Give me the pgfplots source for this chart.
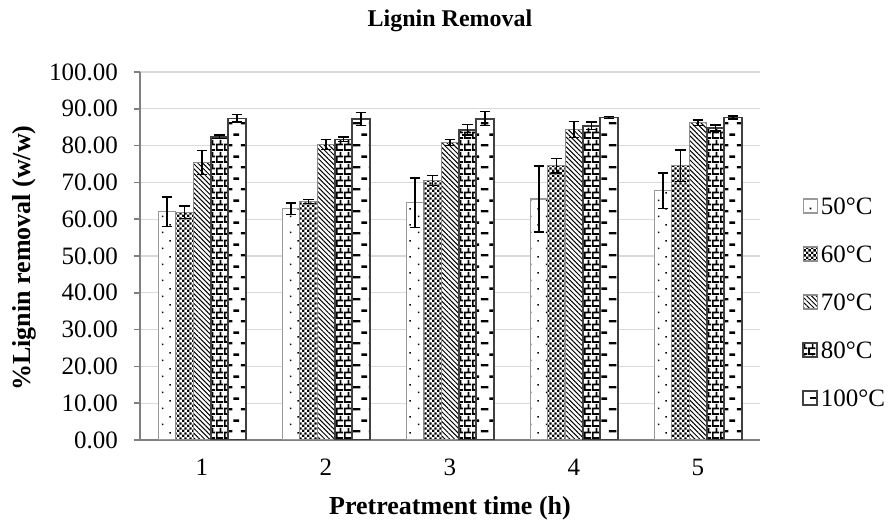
\documentclass[border=0pt]{standalone}
\usepackage{fontspec}
\setmainfont{Liberation Serif}
\usepackage{pgfplots}
\pgfplotsset{compat=1.18}
\usetikzlibrary{patterns,patterns.meta}

\tikzdeclarepattern{
  name=xldots, type=uncolored,
  bounding box={(0pt,0pt) and (8pt,8pt)},
  tile size={(8pt,8pt)},
  code={\fill (1pt,1pt) rectangle (1.8pt,1.8pt); \fill (5pt,5pt) rectangle (5.8pt,5.8pt);}
}
\tikzdeclarepattern{
  name=xlchecker, type=uncolored,
  bounding box={(0pt,0pt) and (2.4pt,2.4pt)},
  tile size={(2.4pt,2.4pt)},
  code={\fill (0pt,0pt) rectangle (1.2pt,1.2pt); \fill (1.2pt,1.2pt) rectangle (2.4pt,2.4pt);}
}
\tikzdeclarepattern{
  name=xlbricks, type=uncolored,
  bounding box={(0pt,0pt) and (4pt,6pt)},
  tile size={(4pt,6pt)},
  code={\draw[line width=0.9pt] (0pt,0.5pt) -- (4pt,0.5pt);
        \draw[line width=0.9pt] (0pt,3.5pt) -- (4pt,3.5pt);
        \draw[line width=0.9pt] (0.5pt,0.5pt) -- (0.5pt,3.5pt);
        \draw[line width=0.9pt] (2.5pt,3.5pt) -- (2.5pt,6pt);
        \draw[line width=0.9pt] (2.5pt,0pt) -- (2.5pt,0.5pt);}
}
\tikzdeclarepattern{
  name=xldash, type=uncolored,
  bounding box={(0pt,0pt) and (8pt,11pt)},
  tile size={(8pt,11pt)},
  code={\draw[line width=1.2pt] (0.5pt,2pt) -- (4.5pt,2pt);
        \draw[line width=1.2pt] (5pt,7.5pt) -- (8pt,7.5pt);}
}

\pgfplotsset{/pgfplots/ybar legend/.style={/pgfplots/legend image code/.code={\draw[##1] (0pt,-3.5pt) rectangle (7pt,3.5pt);}}}

\begin{document}
\begin{tikzpicture}
\path[use as bounding box] (-70pt,-41.5pt) rectangle (375.5pt,220pt);
\begin{axis}[
  at={(0,0)}, anchor=south west,
  width=310pt, height=184pt, scale only axis,
  ybar=0pt, bar width=8.75pt,
  xmin=0.5, xmax=5.5, ymin=0, ymax=100,
  xtick={1,2,3,4,5}, ytick={0,10,...,100},
  axis x line*=bottom, axis y line*=left,
  axis line style={draw=black!50, line width=0.8pt},
  ymajorgrids, grid style={draw=black!15, line width=0.6pt},
  tick align=outside, major tick length=3pt,
  ytick style={draw=black!50, line width=0.8pt},
  xtick style={draw=none},
  /pgf/number format/assume math mode=true,
  yticklabel style={xshift=-4.5pt, /pgf/number format/.cd, fixed, fixed zerofill, precision=2, assume math mode=true},
  xticklabel style={yshift=-3pt},
  tick label style={font=\fontsize{12.5}{14}\selectfont},
  legend style={at={(1.058,0.375)}, anchor=west, draw=none, fill=none,
     font=\fontsize{12.5}{15}\selectfont, row sep=12pt,
     nodes={inner sep=1.5pt, text height=9pt, text depth=0pt}},
  legend cell align=left,
  error bars/y dir=both, error bars/y explicit,
  error bars/error bar style={black, line width=0.7pt},
  error bars/error mark options={rotate=90, mark size=2.7pt, line width=0.7pt, black},
]
\addplot[draw=black!40, line width=0.6pt, preaction={fill=white}, pattern=xldots, pattern color=black]
  coordinates {(1,62.0) +- (0,4.0) (2,62.8) +- (0,1.6) (3,64.5) +- (0,6.7) (4,65.5) +- (0,9.0) (5,67.7) +- (0,4.8)};
\addplot[draw=black!45, line width=0.6pt, preaction={fill=white}, pattern=xlchecker, pattern color=black]
  coordinates {(1,61.9) +- (0,1.7) (2,64.8) +- (0,0.6) (3,70.5) +- (0,1.4) (4,74.5) +- (0,2.0) (5,74.5) +- (0,4.3)};
\addplot[draw=black!45, line width=0.6pt, preaction={fill=white}, pattern={Lines[angle=-45,distance=1.7pt,line width=0.5pt]}, pattern color=black]
  coordinates {(1,75.4) +- (0,3.2) (2,80.3) +- (0,1.4) (3,80.8) +- (0,0.8) (4,84.4) +- (0,2.2) (5,86.2) +- (0,0.7)};
\addplot[draw=black!75, line width=0.8pt, preaction={fill=white}, pattern=xlbricks, pattern color=black]
  coordinates {(1,82.4) +- (0,0.5) (2,81.7) +- (0,0.6) (3,84.3) +- (0,1.4) (4,85.4) +- (0,1.0) (5,84.8) +- (0,0.8)};
\addplot[draw=black!75, line width=0.8pt, preaction={fill=white}, pattern=xldash, pattern color=black]
  coordinates {(1,87.4) +- (0,1.0) (2,87.2) +- (0,1.8) (3,87.3) +- (0,1.9) (4,87.6) +- (0,0.3) (5,87.6) +- (0,0.4)};
\legend{50°C,60°C,70°C,80°C,100°C}
\end{axis}
\node[font=\bfseries\fontsize{12}{14}\selectfont] at (155pt,209.5pt) {Lignin Removal};
\node[font=\bfseries\fontsize{13}{15}\selectfont] at (155pt,-34pt) {Pretreatment time (h)};
\node[font=\bfseries\fontsize{13}{15}\selectfont, rotate=90] at (-58pt,91pt) {\%Lignin removal (w/w)};
\end{tikzpicture}
\end{document}
